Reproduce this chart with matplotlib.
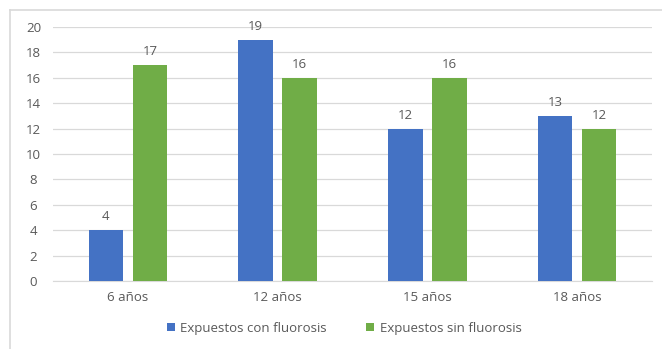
import matplotlib.pyplot as plt
import numpy as np
from matplotlib.lines import Line2D

categories = ["6 años", "12 años", "15 años", "18 años"]
con_fluorosis = [4, 19, 12, 13]
sin_fluorosis = [17, 16, 16, 12]
series_names = ["Expuestos con fluorosis", "Expuestos sin fluorosis"]

blue = "#4472C4"
green = "#70AD47"
text_color = "#595959"
fs = 9.5

plt.rcParams["font.family"] = ["Open Sans", "DejaVu Sans"]

fig = plt.figure(figsize=(6.62, 3.49), dpi=100)
ax = fig.add_axes([0.080, 0.195, 0.905, 0.728])

x = np.arange(len(categories))
w = 0.23
off = 0.147
b1 = ax.bar(x - off, con_fluorosis, w, color=blue, label=series_names[0], zorder=3)
b2 = ax.bar(x + off, sin_fluorosis, w, color=green, label=series_names[1], zorder=3)

for bars in (b1, b2):
    ax.bar_label(bars, padding=5, fontsize=fs, color=text_color)

ax.set_xlim(-0.5, len(categories) - 0.5)
ax.set_ylim(0, 20)
ax.set_yticks(range(0, 21, 2))
ax.set_xticks(x)
ax.set_xticklabels(categories)
ax.tick_params(axis="both", length=0, labelsize=fs, colors=text_color)
ax.tick_params(axis="x", pad=7)
ax.tick_params(axis="y", pad=14)
for lab in ax.get_yticklabels():
    lab.set_horizontalalignment("center")

ax.grid(axis="y", color="#D9D9D9", linewidth=0.9, zorder=0)
for s in ["top", "right", "left"]:
    ax.spines[s].set_visible(False)
ax.spines["bottom"].set_color("#D9D9D9")

fig.legend(handles=[b1, b2], loc="center", bbox_to_anchor=(0.52, 0.06), ncol=2,
           frameon=False, fontsize=fs, handlelength=0.6, handleheight=0.6,
           columnspacing=3.0, handletextpad=0.4, labelcolor=text_color)

# chart frame (top and left visible in the crop)
fig.add_artist(Line2D([10 / 662, 1], [1 - 10 / 349, 1 - 10 / 349], color="#D9D9D9", lw=1.2, transform=fig.transFigure))
fig.add_artist(Line2D([10 / 662, 10 / 662], [0, 1 - 10 / 349], color="#D9D9D9", lw=1.2, transform=fig.transFigure))

fig.savefig("out.png", dpi=100)
